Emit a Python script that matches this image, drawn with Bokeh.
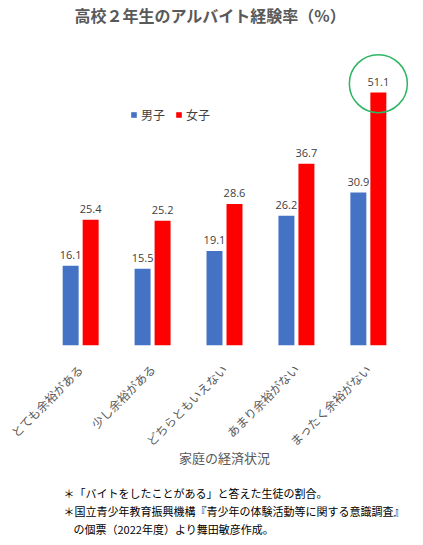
import math
from bokeh.plotting import figure
from bokeh.models import ColumnDataSource, LabelSet, Legend, LegendItem, Title, FactorRange
from bokeh.core.properties import value
from bokeh.transform import dodge
from bokeh.embed import file_html
from bokeh.resources import INLINE

categories = ["とても余裕がある", "少し余裕がある", "どちらともいえない", "あまり余裕がない", "まったく余裕がない"]
male = [16.1, 15.5, 19.1, 26.2, 30.9]
female = [25.4, 25.2, 28.6, 36.7, 51.1]
series_names = ["男子", "女子"]
title_text = "高校２年生のアルバイト経験率（%）"
xlabel_text = "家庭の経済状況"
notes = [
    "＊「バイトをしたことがある」と答えた生徒の割合。",
    "＊国立青少年教育振興機構『青少年の体験活動等に関する意識調査』",
    "の個票（2022年度）より舞田敏彦作成。",
]

JP = "Noto Sans CJK JP"
NUM = "Open Sans"

src = ColumnDataSource(dict(
    cat=categories,
    male=male,
    female=female,
    male_txt=[f"{v:.1f}" for v in male],
    female_txt=[f"{v:.1f}" for v in female],
))

xr = FactorRange(factors=categories, range_padding=0.1, range_padding_units="absolute")
p = figure(x_range=xr, y_range=(0, 60), width=423, height=545,
           output_backend="svg", toolbar_location=None,
           min_border_left=37, min_border_right=12, min_border_top=48, min_border_bottom=200)
p.outline_line_color = None
p.xgrid.visible = False
p.ygrid.visible = False
p.yaxis.visible = False
p.background_fill_color = "white"

off = 0.139
bw = 0.222
rb = p.vbar(x=dodge("cat", -off, range=p.x_range), top="male", width=bw, source=src,
            fill_color="#4472C4", line_color=None)
rr = p.vbar(x=dodge("cat", off, range=p.x_range), top="female", width=bw, source=src,
            fill_color="#FF0000", line_color=None)

for col, o in (("male", -off), ("female", off)):
    p.add_layout(LabelSet(x=dodge("cat", o, range=p.x_range), y=col, text=col + "_txt", source=src,
                          y_offset=7, text_align="center", text_baseline="bottom",
                          text_font=value(NUM), text_font_size=value("11px"),
                          text_color="#404040"))

# highlight circle around the maximum female value
imax = female.index(max(female))
p.scatter(x=dodge("x", off, range=p.x_range), y="y",
          source=ColumnDataSource(dict(x=[categories[imax]], y=[max(female) + 1.8])),
          marker="circle", size=58, fill_color=None, line_color="#2DB563", line_width=1.5)

ax = p.xaxis[0]
ax.axis_line_color = None
ax.major_tick_line_color = None
ax.minor_tick_line_color = None
ax.major_label_orientation = math.pi / 4
ax.major_label_text_font = JP
ax.major_label_text_font_size = "12px"
ax.major_label_text_color = "#595959"
ax.major_label_standoff = 15
ax.axis_label = xlabel_text
ax.axis_label_text_font = JP
ax.axis_label_text_font_size = "13px"
ax.axis_label_text_font_style = "normal"
ax.axis_label_text_color = "#595959"
ax.axis_label_standoff = -10

legend = Legend(items=[LegendItem(label=series_names[0], renderers=[rb]),
                       LegendItem(label=series_names[1], renderers=[rr])],
                orientation="horizontal", location=(93, 222),
                glyph_width=7, glyph_height=7, label_standoff=4, spacing=10,
                padding=0, margin=0, border_line_color=None, background_fill_alpha=0,
                label_text_font=JP, label_text_font_size="12px", label_text_color="#404040")
p.add_layout(legend, "center")

# spacer between frame and title, then the title itself
p.add_layout(Title(text=" ", text_font_size="1px", standoff=19), "above")
p.add_layout(Title(text=title_text, align="left", offset=37, standoff=0,
                   text_font=JP, text_font_size="16px", text_font_style="bold",
                   text_color="#595959"), "above")

# small spacer between axis label and notes
p.add_layout(Title(text=" ", text_font_size="1px", standoff=10), "below")
note_cfg = [(26, 0), (26, 0), (36, 0)]
for t, (o, so) in zip(notes, note_cfg):
    p.add_layout(Title(text=t, align="left", offset=o, standoff=so,
                       text_font=JP, text_font_size="11px", text_font_style="normal",
                       text_color="#000000"), "below")

open("out.html", "w").write(file_html(p, INLINE))
